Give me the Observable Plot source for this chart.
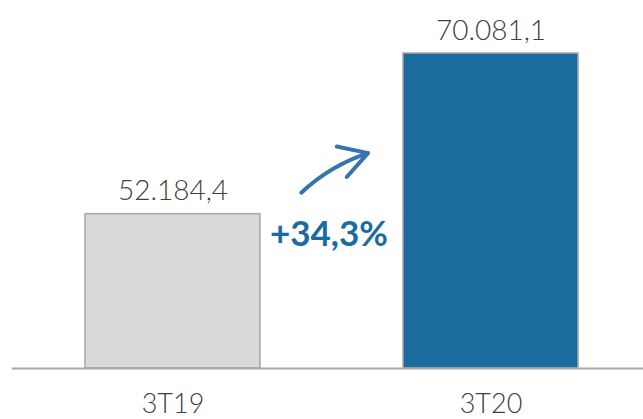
<!DOCTYPE html>
<html>
<head>
<meta charset="utf-8">
<script src="https://cdn.jsdelivr.net/npm/d3@7"></script>
<script src="https://cdn.jsdelivr.net/npm/@observablehq/plot@0.6"></script>
<style>
  html, body { margin: 0; padding: 0; background: #fff; }
  #chart svg { display: block; }
</style>
</head>
<body>
<div id="chart"></div>
<script>
const categories = ["3T19", "3T20"];
const values = [52184.4, 70081.1];
const barColors = ["#d9d9d9", "#1a6c9f"];
const yMin = 35000; // visual baseline of the (truncated) axis
const growthArrowY = [49255, 49255];

const loc = d3.formatLocale({decimal: ",", thousands: ".", grouping: [3], currency: ["R$", ""]});
const fmt = loc.format(",.1f");
const pctFmt = loc.format("+.1%");

const data = categories.map((c, i) => ({cat: c, value: values[i], color: barColors[i]}));
const growth = values[1] / values[0] - 1;

const blue = barColors[1];
const textColor = "#404040";
const font = "Lato, 'Open Sans', sans-serif";

const chart = Plot.plot({
  width: 643,
  height: 419,
  marginLeft: 12,
  marginRight: 0,
  marginTop: 53,
  marginBottom: 51,
  style: {fontFamily: font, background: "#fff"},
  x: {domain: categories, range: [20, 642], paddingInner: 0.45, paddingOuter: 0.2, axis: null},
  y: {domain: [yMin, values[1]], axis: null},
  color: {type: "identity"},
  marks: [
    Plot.barY(data, {x: "cat", y1: yMin, y2: "value", fill: "color", stroke: "#a6a6a6", strokeWidth: 1.5}),
    Plot.ruleY([yMin], {stroke: "#a6a6a6", strokeWidth: 2}),
    Plot.text(data, {x: "cat", y: "value", text: d => fmt(d.value), lineAnchor: "bottom", dy: -14, fontSize: 28, fill: textColor, fontWeight: 300}),
    Plot.axisX({tickSize: 0, tickPadding: 25, fontSize: 27, color: textColor, fontWeight: 300}),
    Plot.arrow([{a: categories[0], b: categories[1], y1: growthArrowY[0], y2: growthArrowY[1]}], {
      x1: "a", x2: "b", y1: "y1", y2: "y2", dx: 92,
      insetStart: 60, insetEnd: 232, bend: 62.4, stroke: "#3574ad", strokeWidth: 4, headLength: 12
    }),
    Plot.text([pctFmt(growth).replace(/\u2212/, "-")], {frameAnchor: "middle", dx: 1, dy: 24, fontSize: 35, fontWeight: "bold", fill: blue})
  ]
});
document.getElementById("chart").appendChild(chart);
</script>
</body>
</html>
